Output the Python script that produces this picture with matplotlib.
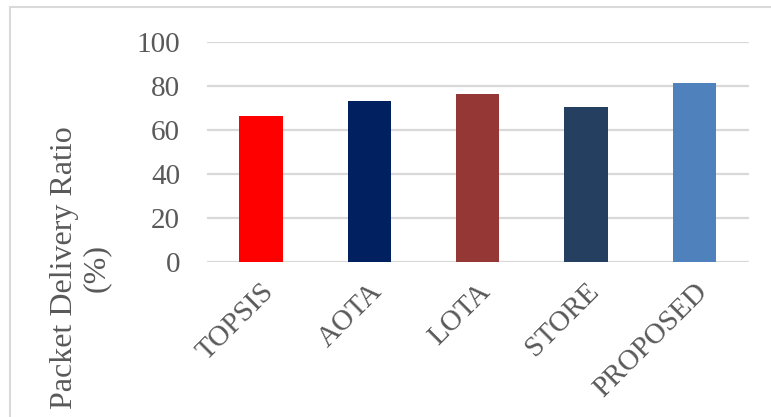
import matplotlib.pyplot as plt
from matplotlib.patches import Rectangle

# datos
metodos = ["TOPSIS", "AOTA", "LOTA", "STORE", "PROPOSED"]
pdr = [66.4, 73.1, 76.3, 70.5, 81.5]
colores = ["#ff0000", "#002060", "#953735", "#243f60", "#4f81bd"]

plt.rcParams['font.family'] = ['Liberation Serif', 'DejaVu Serif']
gris = "#595959"

fig = plt.figure(figsize=(7.71, 4.17), dpi=100)
ax = fig.add_axes([0.268, 0.372, 0.703, 0.527])

x = range(len(metodos))
ax.bar(x, pdr, width=0.4, color=colores, zorder=3)

ax.set_xlim(-0.5, len(metodos) - 0.5)
ax.set_ylim(0, 100)
ax.set_yticks([0, 20, 40, 60, 80, 100])
ax.set_xticks(list(x))
ax.set_xticklabels(metodos, rotation=45, ha="right", rotation_mode="anchor")
ax.tick_params(axis="both", length=0, colors=gris, labelsize=21)
ax.tick_params(axis="x", pad=12)
ax.tick_params(axis="y", pad=19)
ax.grid(axis="y", color="#d9d9d9", linewidth=1.6, zorder=0)
for s in ax.spines.values():
    s.set_visible(False)

fig.text(0.104, 0.358, "Packet Delivery Ratio\n(%)", rotation=90, ha="center",
         va="center", multialignment="center", color=gris, fontsize=23,
         linespacing=1.15)

# marco exterior
fig.patches.append(Rectangle((0.013, -0.05), 1.1, 1.034, transform=fig.transFigure,
                             fill=False, edgecolor="#d9d9d9", linewidth=1.5))

fig.savefig("out.png", dpi=100)
